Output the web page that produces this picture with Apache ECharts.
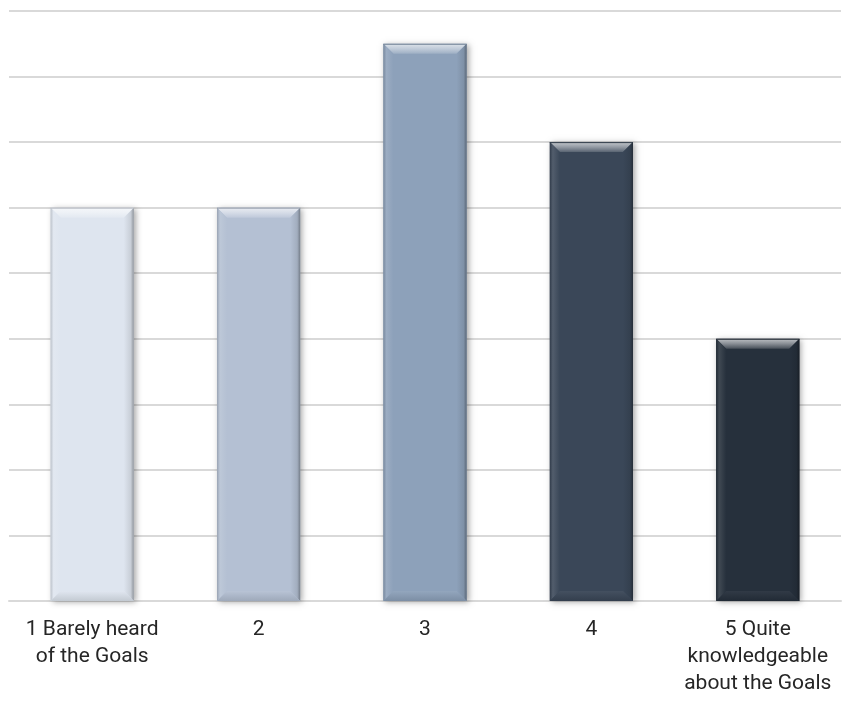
<!DOCTYPE html>
<html>
<head>
<meta charset="utf-8">
<title>Familiarity with the Goals</title>
<script src="https://cdn.jsdelivr.net/npm/echarts@6/dist/echarts.min.js"></script>
<style>
  html, body { margin: 0; padding: 0; background: #ffffff; }
  #chart { width: 843px; height: 702px; }
</style>
</head>
<body>
<div id="chart"></div>
<script>
// Response categories (1 = barely heard, 5 = quite knowledgeable)
const categories = [
  '1 Barely heard\nof the Goals',
  '2',
  '3',
  '4',
  '5 Quite\nknowledgeable\nabout the Goals'
];
// Number of responses per category
const values = [6, 6, 8.5, 7, 4];
// Value axis range
const axisMax = 9;
const axisStep = 1;

// Fill colour for each bar, light to dark
const palette = ['#DEE5EF', '#B4C0D3', '#8DA1BA', '#3A4758', '#26303C'];

function mix(hex, target, t) {
  const a = parseInt(hex.slice(1), 16), b = parseInt(target.slice(1), 16);
  const ch = (n, s) => (n >> s) & 255;
  const r = Math.round(ch(a, 16) + (ch(b, 16) - ch(a, 16)) * t);
  const g = Math.round(ch(a, 8) + (ch(b, 8) - ch(a, 8)) * t);
  const bl = Math.round(ch(a, 0) + (ch(b, 0) - ch(a, 0)) * t);
  return 'rgb(' + r + ',' + g + ',' + bl + ')';
}

// Bevelled bar: flat face plus four sloped edges
function renderBevelBar(params, api) {
  const idx = api.value(0);
  const val = api.value(1);
  const top = api.coord([idx, val]);
  const base = api.coord([idx, 0]);
  const w = api.size([1, 0])[0] * 0.5;
  const x0 = top[0] - w / 2, x1 = top[0] + w / 2;
  const y0 = top[1], y1 = base[1];
  const b = 10;
  const c = palette[idx % palette.length];
  return {
    type: 'group',
    children: [
      {
        type: 'rect',
        shape: { x: x0, y: y0, width: w, height: y1 - y0 },
        style: {
          fill: c,
          shadowBlur: 6,
          shadowColor: 'rgba(0,0,0,0.35)',
          shadowOffsetX: 2,
          shadowOffsetY: 1
        }
      },
      {
        type: 'polygon',
        shape: { points: [[x0, y0], [x1, y0], [x1 - b, y0 + b], [x0 + b, y0 + b]] },
        style: {
          fill: {
            type: 'linear', x: 0, y: 0, x2: 0, y2: 1,
            colorStops: [
              { offset: 0, color: mix(c, '#ffffff', 0.7) },
              { offset: 0.5, color: mix(c, '#ffffff', 0.45) },
              { offset: 1, color: mix(c, '#ffffff', 0.15) }
            ]
          }
        }
      },
      {
        type: 'polygon',
        shape: { points: [[x0, y0], [x0 + b, y0 + b], [x0 + b, y1 - b], [x0, y1]] },
        style: {
          fill: {
            type: 'linear', x: 0, y: 0, x2: 1, y2: 0,
            colorStops: [
              { offset: 0, color: mix(c, '#000000', 0.15) },
              { offset: 0.3, color: mix(c, '#ffffff', 0.12) },
              { offset: 1, color: c }
            ]
          }
        }
      },
      {
        type: 'polygon',
        shape: { points: [[x1, y0], [x1, y1], [x1 - b, y1 - b], [x1 - b, y0 + b]] },
        style: {
          fill: {
            type: 'linear', x: 0, y: 0, x2: 1, y2: 0,
            colorStops: [
              { offset: 0, color: c },
              { offset: 0.7, color: mix(c, '#000000', 0.1) },
              { offset: 1, color: mix(c, '#000000', 0.35) }
            ]
          }
        }
      },
      {
        type: 'polygon',
        shape: { points: [[x0, y1], [x1, y1], [x1 - b, y1 - b], [x0 + b, y1 - b]] },
        style: {
          fill: {
            type: 'linear', x: 0, y: 0, x2: 0, y2: 1,
            colorStops: [
              { offset: 0, color: mix(c, '#ffffff', 0.05) },
              { offset: 1, color: mix(c, '#000000', 0.12) }
            ]
          }
        }
      },
      {
        type: 'line',
        shape: { x1: x0, y1: y0 + 0.5, x2: x1, y2: y0 + 0.5 },
        style: { stroke: mix(c, '#000000', 0.2), lineWidth: 1 }
      }
    ]
  };
}

const chart = echarts.init(document.getElementById('chart'), null, { renderer: 'canvas' });
chart.setOption({
  animation: false,
  backgroundColor: '#ffffff',
  grid: { left: 9, right: 2, top: 11, bottom: 101, containLabel: false },
  xAxis: {
    type: 'category',
    data: categories,
    axisLine: { show: true, lineStyle: { color: '#D9D9D9', width: 2 } },
    axisTick: { show: false },
    axisLabel: {
      interval: 0,
      margin: 15,
      color: '#262626',
      fontSize: 21,
      lineHeight: 27,
      fontFamily: 'Roboto, sans-serif'
    }
  },
  yAxis: {
    type: 'value',
    min: 0,
    max: axisMax,
    interval: axisStep,
    axisLine: { show: false },
    axisTick: { show: false },
    axisLabel: { show: false },
    splitLine: { lineStyle: { color: '#D9D9D9', width: 2 } }
  },
  series: [{
    type: 'custom',
    renderItem: renderBevelBar,
    data: values.map((v, i) => [i, v]),
    encode: { x: 0, y: 1 }
  }]
});
</script>
</body>
</html>
